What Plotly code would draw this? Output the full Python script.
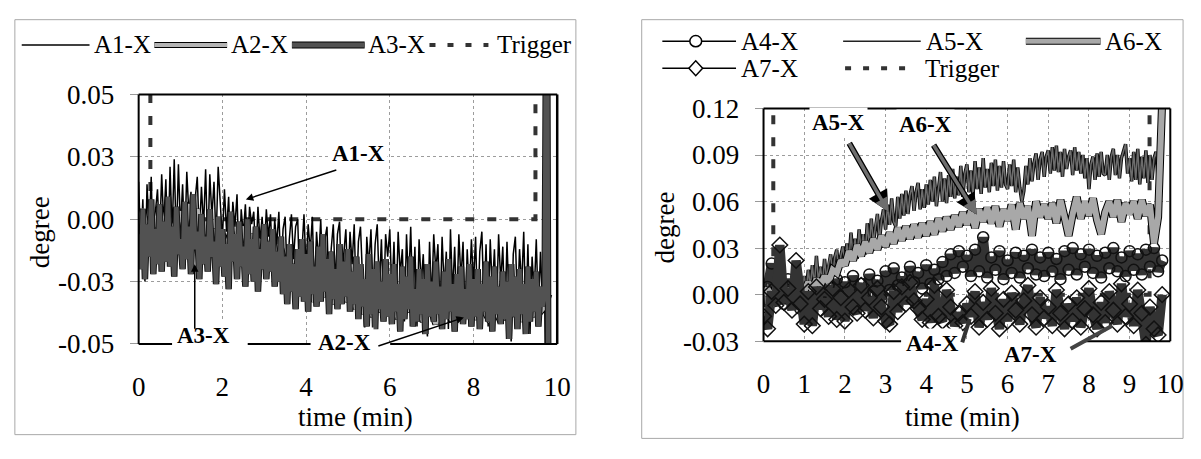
import numpy as np
import plotly.graph_objects as go

W, H = 1201, 459
SERIF = "Liberation Serif, Times New Roman, Times, serif"

# sample times (min)
t_fine = np.round(np.arange(0.0, 9.826, 0.05), 2)   # 0.00 ... 9.80
t_coarse = np.round(np.arange(0.0, 9.85, 0.1), 1)   # 0.0 ... 9.8

# rotations about X, in 1/1000 degree -- left panel (A1, A3 on the fine grid)
a1_x = [15, -12, 8, -25, 14, -5, 17, -18, 3, 12, -9, 18, -2, 16, -14, 21, -6, 24, -10, 22,
        -4, 14, -11, 19, 2, 11, -15, 8, 17, -7, 13, -3, 20, -12, 18, 1, 15, -9, 21, 4,
        -8, 12, -5, 9, -16, 7, -3, 10, -20, 4, -6, 6, -13, 5, -2, 3, -17, 5, -9, 1,
        -14, 4, -7, 2, -19, 0, -10, 3, -22, -4, 1, -25, -8, 2, -16, -3, 0, -28, -11, 2,
        -20, -2, -13, 1, -30, -5, -17, 0, -24, -8, -3, -33, -12, -2, -26, -6, -1, -29, -14, -4,
        -27, -5, -18, -2, -34, -9, -3, -24, -45, -7, -19, -4, -31, -10, -2, -28, -8, -36, -6, -15,
        -4, -30, -9, -37, -5, -22, -12, -41, -6, -27, -3, -35, -11, -43, -8, -26, -14, -38, -47, -9,
        -33, -6, -21, -10, -40, -7, -28, -13, -44, -4, -30, -11, -36, -6, -24, -9, -42, -12, -31, -8,
        -26, -7, -39, -13, -5, -34, -10, -43, -8, -29, -12, -37, -6, -25, -11, -40, -9, -33, -49, -14,
        -7, -36, -12, -27, -5, -41, -10, -46, -15, -30, -8, -38, -13, -34, -30, -120, -120]
a2_x = [-2, 4, -6, 1, -3, 5, -4, 2, -7, 0,
        3, -5, 6, -2, 4, -8, -1, -10, -4, -9,
        -6, -12, -5, -14, -8, -3, -11, -6, -13, -9,
        -10, -15, -8, -17, -12, -20, -26, -18, -28, -22,
        -30, -24, -33, -26, -31, -25, -34, -28, -32, -27,
        -33, -29, -36, -31, -38, -34, -39, -32, -37, -35,
        -38, -33, -40, -35, -37, -32, -39, -36, -41, -34,
        -37, -42, -35, -39, -36, -41, -38, -40, -34, -39,
        -36, -40, -33, -38, -41, -35, -39, -37, -40, -36,
        -38, -34, -41, -36, -39, -33, -37, -35, -30]
a3_x = [-6, -20, 4, -24, -2, -15, 8, -22, -4, -18, 6, -21, -1, -17, 9, -19, -3, -23, 5, -14,
        -8, -20, 7, -16, -3, -22, 10, -12, -5, -24, 2, -18, -7, -21, 4, -15, -9, -26, 1, -19,
        -4, -23, -10, -28, 3, -17, -6, -24, -1, -19, -11, -27, 0, -22, -8, -25, -3, -29, -12, -20,
        -2, -24, -9, -21, -4, -27, -13, -25, -7, -30, -15, -34, -10, -29, -18, -36, -12, -31, -8, -33,
        -14, -37, -9, -30, -19, -35, -11, -33, -6, -29, -16, -38, -13, -32, -20, -36, -10, -34, -17, -31,
        -12, -37, -21, -34, -15, -40, -18, -35, -24, -43, -14, -38, -20, -44, -17, -36, -25, -41, -16, -39,
        -22, -42, -18, -37, -26, -45, -19, -40, -23, -36, -15, -43, -28, -41, -20, -38, -24, -46, -18, -39,
        -25, -41, -17, -38, -27, -44, -21, -40, -16, -37, -26, -45, -22, -39, -19, -42, -28, -40, -18, -43,
        -24, -39, -20, -44, -26, -37, -17, -41, -23, -45, -19, -38, -27, -42, -21, -40, -25, -48, -18, -39,
        -23, -44, -20, -38, -26, -46, -19, -41, -24, -37, -21, -43, -27, -35, -30, 130, -130]

# rotations about X, in 1/1000 degree -- right panel (A5 on the fine grid)
a4_x = [-8, 5, 20, -4, 8, -6, 10, -3, 7, -9,
        4, -7, 9, -2, 11, -5, 6, -8, 10, -1,
        8, -6, 12, 0, 7, -4, 13, 2, 9, -3,
        15, 3, 17, 6, 11, 0, 18, 8, 14, 4,
        19, 7, 16, 10, 21, 12, 26, 14, 28, 18,
        25, 12, 29, 15, 37, 11, 24, 16, 28, 10,
        22, 14, 27, 11, 25, 17, 29, 13, 24, 12,
        27, 15, 23, 10, 28, 16, 30, 13, 26, 18,
        29, 14, 25, 11, 27, 17, 30, 15, 24, 12,
        28, 16, 26, 13, 29, 18, 30, 15, 22]
a5_x = [4, -6, 7, -3, 5, -8, 8, -2, -5, 6, -4, 9, -6, 3, 10, -3, 6, -1, 11, 2,
        12, 2, 16, 5, 19, 6, 25, 9, 18, 7, 23, 10, 20, 26, 12, 24, 29, 14, 25, 31,
        20, 33, 22, 40, 24, 36, 23, 42, 28, 39, 26, 46, 31, 49, 33, 44, 52, 35, 48, 55,
        42, 58, 45, 62, 47, 44, 63, 49, 65, 51, 67, 52, 64, 70, 54, 66, 72, 55, 68, 56,
        71, 58, 74, 60, 76, 57, 70, 79, 60, 75, 59, 77, 63, 81, 62, 76, 64, 83, 63, 78,
        84, 66, 80, 64, 86, 68, 82, 65, 88, 69, 81, 66, 85, 70, 87, 67, 83, 69, 86, 71,
        68, 84, 70, 87, 66, 82, 69, 60, 67, 83, 71, 88, 73, 85, 91, 74, 87, 92, 76, 89,
        93, 78, 95, 80, 96, 79, 92, 76, 94, 81, 89, 93, 77, 95, 80, 92, 78, 90, 75, 88,
        68, 84, 89, 74, 91, 76, 92, 78, 77, 90, 74, 89, 94, 77, 90, 75, 88, 93, 97, 78,
        88, 73, 92, 74, 94, 71, 89, 75, 93, 72, 90, 74, 88, 92, 75, 89, 86]
a6_x = [0, 4, -3, 5, 0, -2, 4, -1, 3, 5,
        2, 8, 3, 10, 6, 12, 8, 16, 14, 22,
        19, 28, 22, 32, 25, 34, 27, 36, 29, 38,
        31, 40, 33, 43, 35, 44, 36, 45, 37, 46,
        38, 47, 39, 49, 41, 50, 42, 51, 44, 53,
        45, 54, 43, 55, 47, 56, 46, 57, 44, 55,
        48, 58, 42, 59, 49, 57, 38, 60, 50, 58,
        49, 59, 46, 61, 50, 38, 52, 63, 49, 60,
        51, 62, 48, 39, 53, 60, 50, 61, 47, 59,
        52, 60, 49, 61, 51, 58, 33, 50, 125]
a7_x = [-14, -22, 2, -7, 32, -5, 4, -10, 22, -6,
        -19, 2, -20, 5, -9, -3, -14, 4, -16, -2,
        -17, 3, -8, -12, 6, -10, -2, -15, 4, -8,
        -17, -19, 2, -11, 5, -6, 8, -4, -9, -16,
        -3, -18, 6, -14, -17, 3, -8, -20, -12, -18,
        -6, -14, 2, -21, -5, -16, 4, -12, -22, -3,
        -17, 1, -10, -19, -4, 6, -13, -21, -2, -15,
        -8, -20, 3, -12, -22, -6, -17, -2, -21, -9,
        4, -13, -22, -5, -18, 2, -10, -19, 7, -14,
        -6, -20, 3, -12, -32, -8, -22, -26, 0]

# trigger channel (pulse, off scale when active)
trig_left_t = [0.28, 0.28, 9.48, 9.48]
trig_left_v = [0.2, 0.0, 0.0, 0.2]
trig_right_t = [0.24, 0.24, 9.49, 9.49]
trig_right_v = [0.3, 0.0, 0.0, 0.3]

# axis ticks
left_xticks = [0, 2, 4, 6, 8, 10]
left_yticks = [-0.05, -0.025, 0.0, 0.025, 0.05]
left_ytext = ["-0.05", "-0.03", "0.00", "0.03", "0.05"]
right_xticks = list(range(0, 11))
right_yticks = [-0.03, 0.0, 0.03, 0.06, 0.09, 0.12]
right_ytext = ["-0.03", "0.00", "0.03", "0.06", "0.09", "0.12"]


def deg(v):
    return np.array(v, dtype=float) / 1000.0


def PX(x):
    return x / W


def PY(y):
    return 1 - y / H


fig = go.Figure()


def line_trace(t, v, color, width, xa, ya, name, dash=None, mode="lines", marker=None):
    fig.add_trace(go.Scatter(
        x=t, y=v, mode=mode, name=name, xaxis=xa, yaxis=ya,
        line=dict(color=color, width=width, dash=dash),
        marker=marker, showlegend=False, hoverinfo="skip"))


TRIG_DASH = "9px,13px"

# ---- left panel ----
line_trace(trig_left_t, trig_left_v, "#333333", 4, "x", "y", "Trigger", dash=TRIG_DASH)
line_trace(t_fine, deg(a1_x), "#000000", 1.5, "x", "y", "A1-X")
line_trace(t_coarse, deg(a2_x), "#000000", 7, "x", "y", "A2-X")
line_trace(t_coarse, deg(a2_x), "#b4b4b4", 5, "x", "y", "A2-X")
line_trace(t_fine, deg(a3_x), "#151515", 6.5, "x", "y", "A3-X")
line_trace(t_fine, deg(a3_x), "#525252", 4.5, "x", "y", "A3-X")

# ---- right panel ----
line_trace(trig_right_t, trig_right_v, "#333333", 4, "x2", "y2", "Trigger", dash=TRIG_DASH)
line_trace(t_coarse, deg(a4_x), "#333333", 9.5, "x2", "y2", "A4-X", mode="lines+markers",
           marker=dict(symbol="circle-open", size=11, color="#111111", line=dict(width=1.5)))
line_trace(t_fine, deg(a5_x), "#111111", 3.5, "x2", "y2", "A5-X")
line_trace(t_fine, deg(a5_x), "#6c6c6c", 1.5, "x2", "y2", "A5-X")
line_trace(t_coarse, deg(a6_x), "#000000", 8, "x2", "y2", "A6-X")
line_trace(t_coarse, deg(a6_x), "#a8a8a8", 6, "x2", "y2", "A6-X")
line_trace(t_coarse, deg(a7_x), "#333333", 9.5, "x2", "y2", "A7-X", mode="lines+markers",
           marker=dict(symbol="diamond-open", size=12, color="#111111", line=dict(width=1.5)))

tickfont = dict(family=SERIF, size=27, color="#000000")
grid = dict(showgrid=True, gridcolor="#9c9c9c", gridwidth=1, griddash="dot", ticks="")

fig.update_layout(
    width=W, height=H, margin=dict(l=0, r=0, t=0, b=0),
    paper_bgcolor="white", plot_bgcolor="white", showlegend=False,
    font=dict(family=SERIF, color="#000000"),
    xaxis=dict(domain=[PX(134), PX(560)], range=[0, 10], anchor="y",
               tickmode="array", tickvals=left_xticks, ticks="", showgrid=False,
               zeroline=False, tickfont=tickfont, ticklabelstandoff=24,
               minor=dict(tickmode="array", tickvals=[2, 4, 6, 8], **grid)),
    yaxis=dict(domain=[PY(352), PY(85)], range=[-0.05, 0.05], anchor="x",
               tickmode="array", tickvals=left_yticks, ticktext=left_ytext,
               ticks="outside", ticklen=8, tickcolor="#999999", showgrid=False,
               zeroline=False, tickfont=tickfont, ticklabelstandoff=10,
               minor=dict(tickmode="array", tickvals=[-0.025, 0.0, 0.025], **grid)),
    xaxis2=dict(domain=[PX(770), PX(1184)], range=[0, 10], anchor="y2",
                tickmode="array", tickvals=right_xticks, ticks="", showgrid=False,
                zeroline=False, tickfont=tickfont, ticklabelstandoff=24,
                minor=dict(tickmode="array", tickvals=list(range(1, 10)), **grid)),
    yaxis2=dict(domain=[PY(349), PY(100)], range=[-0.03, 0.12], anchor="x2",
                tickmode="array", tickvals=right_yticks, ticktext=right_ytext,
                ticks="outside", ticklen=8, tickcolor="#999999", showgrid=False,
                zeroline=False, tickfont=tickfont, ticklabelstandoff=10,
                minor=dict(tickmode="array", tickvals=[0.0, 0.03, 0.06, 0.09], **grid)),
)

shapes = []


def seg(x0, y0, x1, y1, color="#000000", width=2, dash=None):
    shapes.append(dict(type="line", xref="paper", yref="paper",
                       x0=PX(x0), y0=PY(y0), x1=PX(x1), y1=PY(y1),
                       line=dict(color=color, width=width, dash=dash), layer="above"))


# outer frames of both panels
for (x0, y0, x1, y1) in [(8, 5, 579, 449), (646, 5, 1197, 453)]:
    shapes.append(dict(type="rect", xref="paper", yref="paper",
                       x0=PX(x0), y0=PY(y1), x1=PX(x1), y1=PY(y0),
                       line=dict(color="#a8a8a8", width=1), layer="below"))

# plot-area boxes (bottom edge broken by the labels)
seg(134, 85, 560, 85)
seg(134, 85, 134, 352)
seg(560, 85, 560, 352, width=2.5)
for a, b in [(134, 168), (245, 309), (390, 560)]:
    seg(a, 352, b, 352)
seg(770, 100, 1184, 100)
seg(770, 100, 770, 349)
seg(1184, 100, 1184, 349)
for a, b in [(770, 910), (1097, 1184)]:
    seg(a, 349, b, 349)

# ---- hand-built legends ----
LEG = 25


def leg_text(x, y, s):
    fig.add_annotation(xref="paper", yref="paper", x=PX(x), y=PY(y), text=s,
                       showarrow=False, xanchor="left", yanchor="middle",
                       font=dict(family=SERIF, size=LEG, color="#000000"))


def leg_outlined(x0, x1, y, fill, w):
    seg(x0, y, x1, y, color="#000000", width=w + 2)
    seg(x0, y, x1, y, color=fill, width=w)


ly = 32
seg(15, ly, 84, ly, width=1.5)
leg_text(87, ly, "A1-X")
leg_outlined(150, 224, ly, "#b4b4b4", 4)
leg_text(226, ly, "A2-X")
leg_outlined(290, 364, ly, "#525252", 5)
leg_text(365, ly, "A3-X")
seg(430, ly, 490, ly, color="#333333", width=4, dash="6px,12px")
leg_text(497, ly, "Trigger")

r1, r2 = 28, 57
seg(667, r1, 742, r1, width=1.5)
shapes.append(dict(type="circle", xref="paper", yref="paper",
                   x0=PX(695), x1=PX(707), y0=PY(r1 + 6), y1=PY(r1 - 6),
                   line=dict(color="#000000", width=1.5), fillcolor="white", layer="above"))
leg_text(745, r1, "A4-X")
seg(851, r1, 930, r1, color="#222222", width=1.5)
leg_text(933, r1, "A5-X")
leg_outlined(1037, 1113, r1, "#a8a8a8", 5)
leg_text(1115, r1, "A6-X")
seg(667, r2, 742, r2, width=1.5)
shapes.append(dict(type="path", xref="paper", yref="paper",
                   path="M {a},{b} L {c},{d} L {e},{b} L {c},{f} Z".format(
                       a=PX(694), b=PY(r2), c=PX(701), d=PY(r2 - 8), e=PX(708), f=PY(r2 + 8)),
                   line=dict(color="#000000", width=1.5), fillcolor="white", layer="above"))
leg_text(745, r2, "A7-X")
seg(853, r2, 915, r2, color="#333333", width=4, dash="6px,12px")
leg_text(932, r2, "Trigger")

fig.update_layout(shapes=shapes)


# ---- axis titles ----
def title(x, y, s, angle=0):
    fig.add_annotation(xref="paper", yref="paper", x=PX(x), y=PY(y), text=s,
                       showarrow=False, textangle=angle, xanchor="center", yanchor="middle",
                       font=dict(family=SERIF, size=27, color="#000000"))


title(355, 430, "time (min)")
title(972, 430, "time (min)")
title(33, 232, "degree", -90)
title(670, 227, "degree", -90)


# ---- series call-outs ----
def callout(x, y, s):
    fig.add_annotation(xref="paper", yref="paper", x=PX(x), y=PY(y), text="<b>%s</b>" % s,
                       showarrow=False, xanchor="center", yanchor="middle",
                       bgcolor="white", borderpad=2,
                       font=dict(family=SERIF, size=23, color="#000000"))


def arrow(xa, ya, t, v, dx, dy, color, width, head=2, size=1.0):
    fig.add_annotation(xref=xa, yref=ya, x=t, y=v, ax=dx, ay=dy, text="",
                       showarrow=True, arrowhead=head, arrowsize=size,
                       arrowwidth=width, arrowcolor=color)


callout(358, 148, "A1-X")
callout(200, 343, "A3-X")
callout(343, 350, "A2-X")
callout(846, 115, "A5-X")
callout(935, 117, "A6-X")
callout(942, 352, "A4-X")
callout(1042, 363, "A7-X")

arrow("x", "y", 2.56, 0.0079, 92, -30, "#000000", 1.5)
arrow("x", "y", 1.34, -0.018, 0, 66, "#000000", 1.5)
arrow("x", "y", 7.77, -0.0394, -87, 29, "#000000", 1.5)
arrow("x2", "y2", 3.07, 0.0534, -40, -70, "#000000", 6, size=0.7)
arrow("x2", "y2", 3.07, 0.0534, -40, -70, "#6e6e6e", 3.5, size=0.8)
arrow("x2", "y2", 5.24, 0.0516, -44, -71, "#000000", 6, size=0.7)
arrow("x2", "y2", 5.24, 0.0516, -44, -71, "#6e6e6e", 3.5, size=0.8)
arrow("x2", "y2", 5.07, -0.0156, -8, 25, "#333333", 4, head=0)
arrow("x2", "y2", 8.57, -0.020, -43, 24, "#444444", 4, head=0)

fig.write_html("out.html")
